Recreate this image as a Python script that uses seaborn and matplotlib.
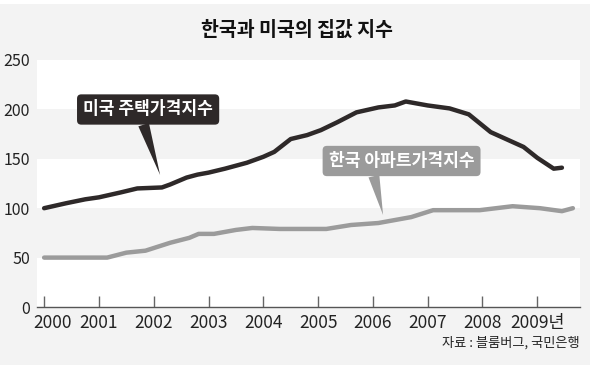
import matplotlib
matplotlib.use("Agg")
import matplotlib.pyplot as plt
from matplotlib.patches import Rectangle
from matplotlib.transforms import ScaledTranslation
import seaborn as sns
import pandas as pd

# ---- data ----
us_t = [2000.0, 2000.4, 2000.75, 2001.0, 2001.4, 2001.7, 2002.15, 2002.3, 2002.6,
        2002.8, 2003.0, 2003.3, 2003.7, 2004.0, 2004.2, 2004.5, 2004.8, 2005.05,
        2005.35, 2005.7, 2006.1, 2006.4, 2006.6, 2007.0, 2007.4, 2007.75,
        2008.15, 2008.55, 2008.75, 2009.0, 2009.3, 2009.45]
us_v = [100, 105, 109, 111, 116, 120, 121, 124, 131,
        134, 136, 140, 146, 152, 157, 170, 174, 179,
        187, 197, 202, 204, 208, 204, 201, 195,
        177, 167, 162, 151, 140, 141]

kr_t = [2000.0, 2001.15, 2001.5, 2001.85, 2002.3, 2002.65, 2002.82, 2003.1, 2003.5,
        2003.8, 2004.3, 2005.15, 2005.6, 2006.1, 2006.7, 2007.1, 2007.95, 2008.55,
        2009.05, 2009.45, 2009.65]
kr_v = [50, 50, 55, 57, 65, 70, 74, 74, 78,
        80, 79, 79, 83, 85, 91, 98, 98, 102,
        100, 97, 100]

years = list(range(2000, 2010))
year_labels = ["2000", "2001", "2002", "2003", "2004", "2005", "2006", "2007", "2008", "2009년"]
y_ticks = [0, 50, 100, 150, 200, 250]

title = "한국과 미국의 집값 지수"
us_label = "미국 주택가격지수"
kr_label = "한국 아파트가격지수"
source = "자료 : 블룸버그, 국민은행"

# ---- style ----
sns.set_theme(style="white")
plt.rcParams["font.family"] = ["Noto Sans CJK KR", "DejaVu Sans"]
BG = "#f3f3f3"
US_C = "#2e2929"
KR_C = "#9b9b9b"

W, H = 590, 365
fig = plt.figure(figsize=(W / 100, H / 100), dpi=100, facecolor=BG)
fig.patches.append(Rectangle((0, 1 - 4 / H), 1, 4 / H, transform=fig.transFigure,
                             facecolor="white", edgecolor="none", zorder=-1))
ax = fig.add_axes([37 / W, 1 - 307 / H, 543 / W, 247 / H])
ax.set_facecolor(BG)

for lo, hi in [(0, 50), (100, 150), (200, 250)]:
    ax.axhspan(lo, hi, color="white", zorder=0, lw=0)

us_df = pd.DataFrame({"year": us_t, "value": us_v})
kr_df = pd.DataFrame({"year": kr_t, "value": kr_v})
sns.lineplot(data=kr_df, x="year", y="value", ax=ax, color=KR_C, lw=3.2,
             estimator=None, sort=False, solid_capstyle="round", zorder=3)
sns.lineplot(data=us_df, x="year", y="value", ax=ax, color=US_C, lw=3.2,
             estimator=None, sort=False, solid_capstyle="round", zorder=4)

ax.set_xlim(1999.87, 2009.78)
ax.set_ylim(0, 250)
ax.set_xlabel("")
ax.set_ylabel("")

ax.set_xticks(years)
ax.set_xticklabels(year_labels, family=["Liberation Sans Narrow", "Noto Sans CJK KR"],
                   fontsize=12.5, color="#222")
ax.set_yticks(y_ticks)
ax.set_yticklabels([str(v) for v in y_ticks],
                   family=["Liberation Sans Narrow", "Noto Sans CJK KR"],
                   fontsize=11.5, color="#222")
ax.tick_params(axis="x", direction="in", length=8, width=1, color="#666", pad=5,
               bottom=True)
ax.tick_params(axis="y", length=0, pad=5)
for s in ["top", "right", "left"]:
    ax.spines[s].set_visible(False)
ax.spines["bottom"].set_color("#555")
ax.spines["bottom"].set_linewidth(1)

# first year label sits a little right of its tick, clear of the "0"
first = ax.get_xticklabels()[0]
first.set_transform(first.get_transform() + ScaledTranslation(8 / 100, 0, fig.dpi_scale_trans))


def px2data(px, py):
    return 2000 + (px - 44) / 54.8, (307 - py) / 0.988


# label boxes with pointer wedges
tx, ty = px2data(148, 109.5)
hx, hy = px2data(160, 175)
ax.annotate(us_label, xy=(hx, hy), xytext=(tx, ty), ha="center", va="center",
            fontsize=12.3, fontweight="bold", color="white", zorder=10,
            bbox=dict(boxstyle="round,pad=0.36,rounding_size=0.25", fc=US_C, ec="none"),
            arrowprops=dict(arrowstyle="wedge,tail_width=0.65", fc=US_C, ec="none",
                            relpos=(0.45, 0.0), shrinkA=0, shrinkB=0))

tx, ty = px2data(401.5, 161)
hx, hy = px2data(383, 215)
ax.annotate(kr_label, xy=(hx, hy), xytext=(tx, ty), ha="center", va="center",
            fontsize=12.3, fontweight="bold", color="white", zorder=10,
            bbox=dict(boxstyle="round,pad=0.36,rounding_size=0.25", fc=KR_C, ec="none"),
            arrowprops=dict(arrowstyle="wedge,tail_width=0.65", fc=KR_C, ec="none",
                            relpos=(0.3, 0.0), shrinkA=0, shrinkB=0))

fig.text(297 / W, 1 - 30 / H, title, ha="center", va="center",
         fontsize=14, fontweight="bold", color="#111")
fig.text(580 / W, 1 - 343 / H, source, ha="right", va="center",
         fontsize=9.5, color="#222")

fig.savefig("out.png", dpi=100, facecolor=BG)
